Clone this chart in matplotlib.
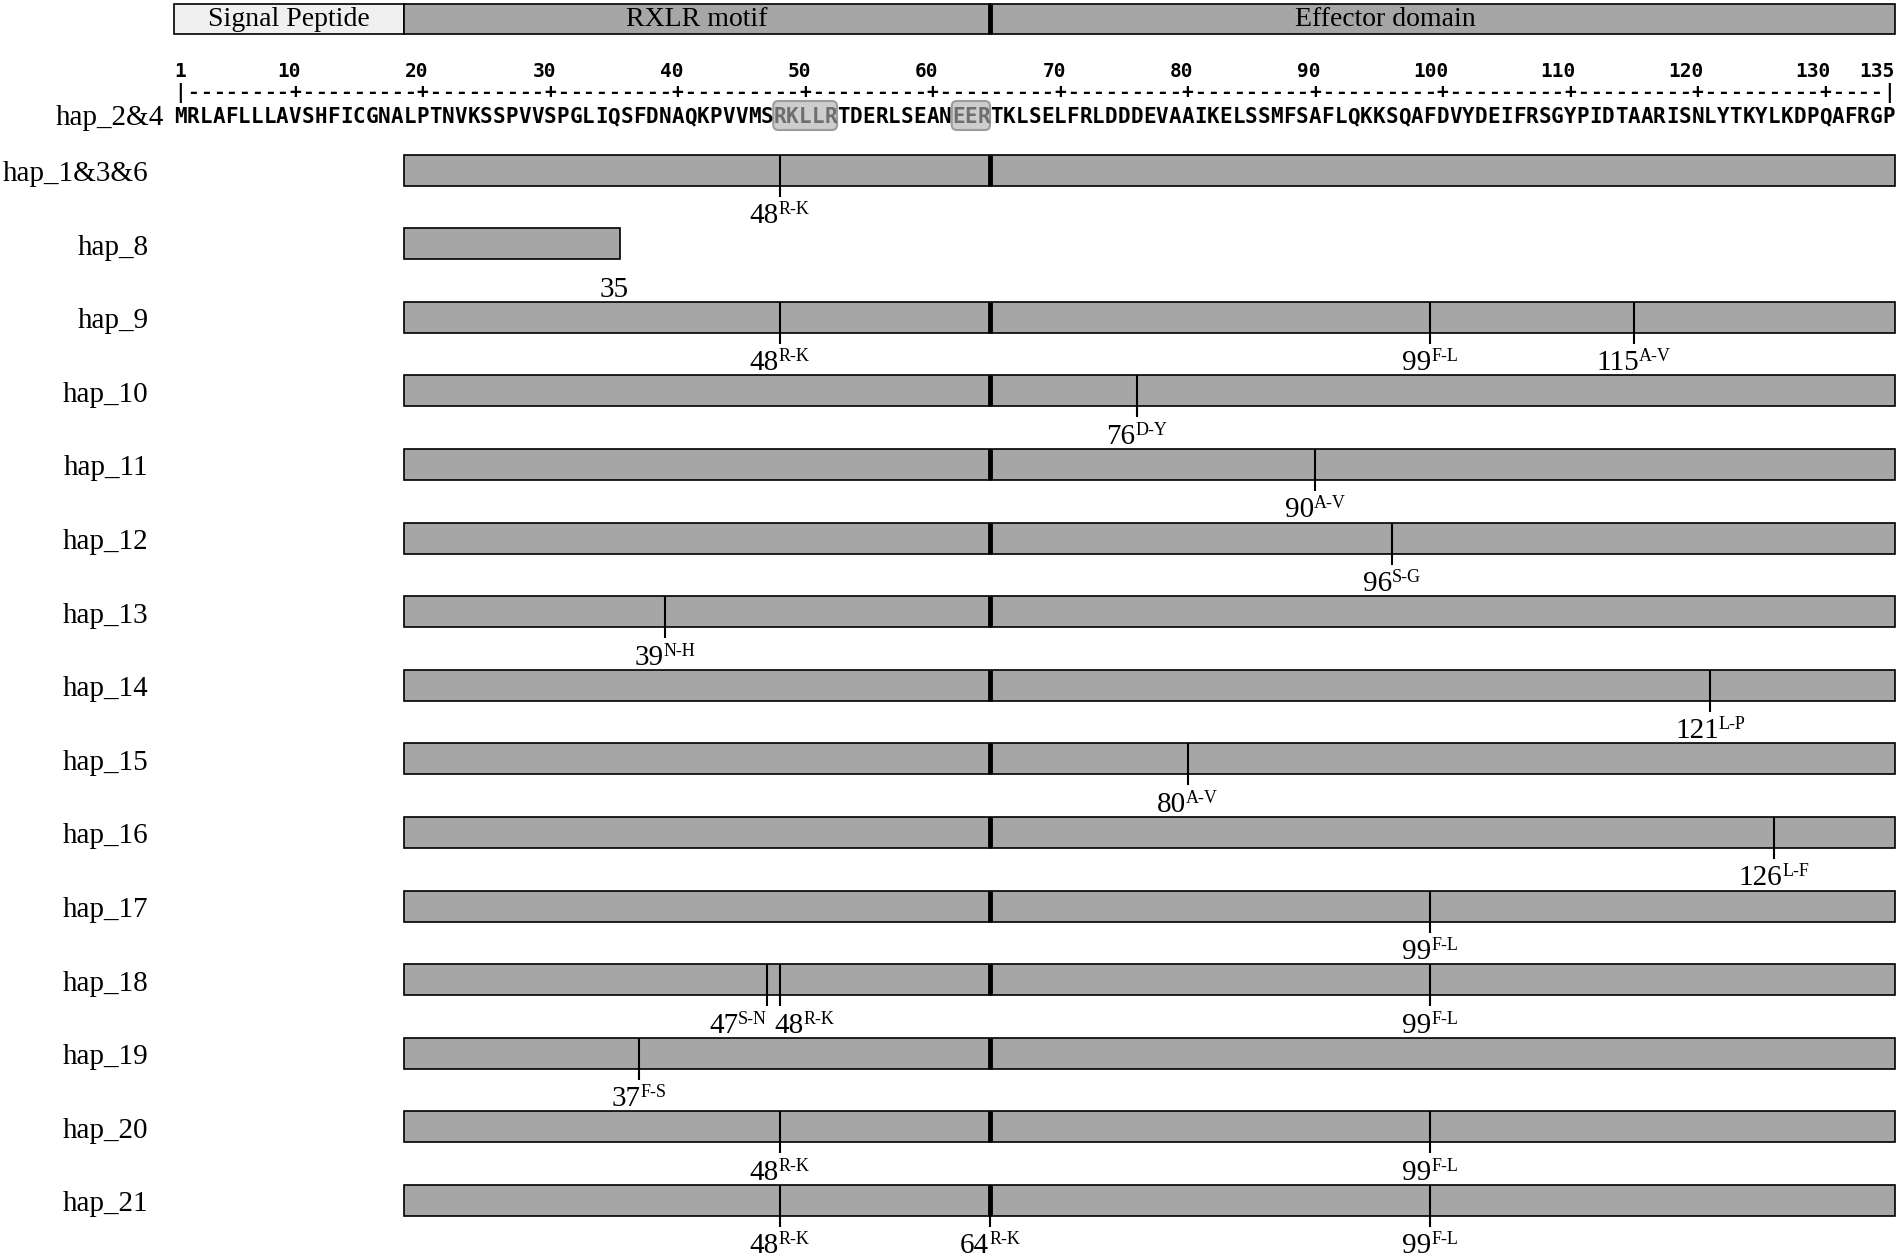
import matplotlib
matplotlib.use('Agg')
import matplotlib.pyplot as plt
from matplotlib.patches import Rectangle, FancyBboxPatch

# protein sequence of the reference haplotype (hap_2&4)
sequence = ("MRLAFLLLAVSHFICGNALPTNVKSSPVVSPGLIQSFDNAQKPVVMSRKLLR"
            "TDERLSEANEERTKLSELFRLDDDEVAAIKELSSMFSAFLQKKSQAFDVYDEI"
            "FRSGYPIDTAARISNLYTKYLKDPQAFRGP")

domain_names = ['Signal Peptide', 'RXLR motif', 'Effector domain']
domain_start = [1, 19, 65]
domain_end = [18, 64, 135]

motif_start = [48, 62]   # RKLLR, EER
motif_end = [52, 64]

ruler_labels = [1, 10, 20, 30, 40, 50, 60, 70, 80, 90, 100, 110, 120, 130, 135]

hap_names = ['hap_1&3&6', 'hap_8', 'hap_9', 'hap_10', 'hap_11', 'hap_12', 'hap_13',
             'hap_14', 'hap_15', 'hap_16', 'hap_17', 'hap_18', 'hap_19', 'hap_20', 'hap_21']
hap_start = [19] * 15
hap_end = [135, 35, 135, 135, 135, 135, 135, 135, 135, 135, 135, 135, 135, 135, 135]
mut_pos = [[48], [], [48, 99, 115], [76], [90], [96], [39], [121], [80], [126],
           [99], [47, 48, 99], [37], [48, 99], [48, 64, 99]]
mut_change = [['R-K'], [], ['R-K', 'F-L', 'A-V'], ['D-Y'], ['A-V'], ['S-G'], ['N-H'],
              ['L-P'], ['A-V'], ['L-F'], ['F-L'], ['S-N', 'R-K', 'F-L'], ['F-S'],
              ['R-K', 'F-L'], ['R-K', 'R-K', 'F-L']]

# layout (pixels of the 1902x1260 figure)
W, H = 1902, 1260
PITCH = 12.75      # px per residue
X_RES1 = 174       # left edge of residue 1
ROW0 = 170
ROW_STEP = 73.6
BAR_H = 31
GRAY = '#a6a6a6'
SERIF = ['Liberation Serif', 'DejaVu Serif']
MONO = 'DejaVu Sans Mono'

fig = plt.figure(figsize=(W / 100, H / 100), dpi=100)
ax = fig.add_axes([0, 0, 1, 1])
ax.set_xlim(0.5 - X_RES1 / PITCH, 0.5 + (W - X_RES1) / PITCH)
ax.set_ylim(H, 0)
ax.axis('off')
renderer = fig.canvas.get_renderer()

# domain bar on top
dom_fc = ['#f0f0f0', GRAY, GRAY]
dom_text_x = [9.5, 41.5, 95.5]
for name, s, e, fc, tx in zip(domain_names, domain_start, domain_end, dom_fc, dom_text_x):
    ax.add_patch(Rectangle((s - 0.5, 4), e - s + 1, 30, fc=fc, ec='black', lw=1.2))
    ax.text(tx, 19, name, ha='center', va='center', fontsize=20, family=SERIF)
ax.vlines(domain_end[1] + 0.5, 4, 34, color='black', lw=3.5)

# position numbers and ruler
for n in ruler_labels:
    if n == 1:
        ax.text(n, 77, str(n), ha='center', va='baseline', fontsize=14,
                family=MONO, weight='bold')
    else:
        ax.text(n + 0.46, 77, str(n), ha='right', va='baseline', fontsize=14,
                family=MONO, weight='bold')
for i in range(1, len(sequence) + 1):
    if i == 1 or i == len(sequence):
        ch = '|'
    elif i in ruler_labels:
        ch = '+'
    else:
        ch = '-'
    ax.text(i, 98, ch, ha='center', va='baseline', fontsize=14, family=MONO, weight='bold')

# highlighted motifs
for s, e in zip(motif_start, motif_end):
    ax.add_patch(FancyBboxPatch((s - 0.5, 101), e - s + 1, 29,
                                boxstyle='round,pad=0,rounding_size=0.4',
                                mutation_aspect=PITCH, fc='#cdcdcd', ec='#9c9c9c', lw=1.5))

# sequence letters
for i, ch in enumerate(sequence, start=1):
    in_motif = any(s <= i <= e for s, e in zip(motif_start, motif_end))
    ax.text(i, 117, ch, ha='center', va='center', fontsize=15, family=MONO,
            weight='bold', color='#6e6e6e' if in_motif else 'black')
ax.text(-0.3, 118, 'hap_2&4', ha='right', va='center', fontsize=21, family=SERIF)


def mut_label(x, y, num, sup, align):
    t1 = ax.text(x, y, num, ha='left', va='baseline', fontsize=21, family=SERIF)
    t2 = ax.text(x, y - 9, sup, ha='left', va='baseline', fontsize=13, family=SERIF)
    w1 = t1.get_window_extent(renderer).width / PITCH
    w2 = t2.get_window_extent(renderer).width / PITCH
    if align == 'center':
        left = x - (w1 + w2) / 2
    elif align == 'right':
        left = x - (w1 + w2)
    else:
        left = x - 0.4
    t1.set_x(left)
    t2.set_x(left + w1)


for k, name in enumerate(hap_names):
    y = ROW0 + k * ROW_STEP
    s, e = hap_start[k], hap_end[k]
    ax.add_patch(Rectangle((s - 0.5, y - BAR_H / 2), e - s + 1, BAR_H,
                           fc=GRAY, ec='black', lw=1.2))
    if e > domain_end[1]:
        ax.vlines(domain_end[1] + 0.5, y - BAR_H / 2, y + BAR_H / 2, color='black', lw=3.5)
    else:
        ax.text(e, y + 53, str(e), ha='center', va='baseline', fontsize=21, family=SERIF)
    ax.text(-1.5, y + 4, name, ha='right', va='center', fontsize=21, family=SERIF)
    pos = mut_pos[k]
    for j, p in enumerate(pos):
        # a change at the last RXLR-region residue sits on the domain border line
        lx = p + 0.5 if p == domain_end[1] else p
        ax.vlines(lx, y - BAR_H / 2, y + BAR_H / 2 + 11, color='black', lw=1.5)
        if j + 1 < len(pos) and pos[j + 1] - p <= 2:
            align = 'right'
        elif j > 0 and p - pos[j - 1] <= 2:
            align = 'left'
        else:
            align = 'center'
        mut_label(lx, y + 53, str(p), mut_change[k][j], align)

fig.savefig('out.png', dpi=100)
